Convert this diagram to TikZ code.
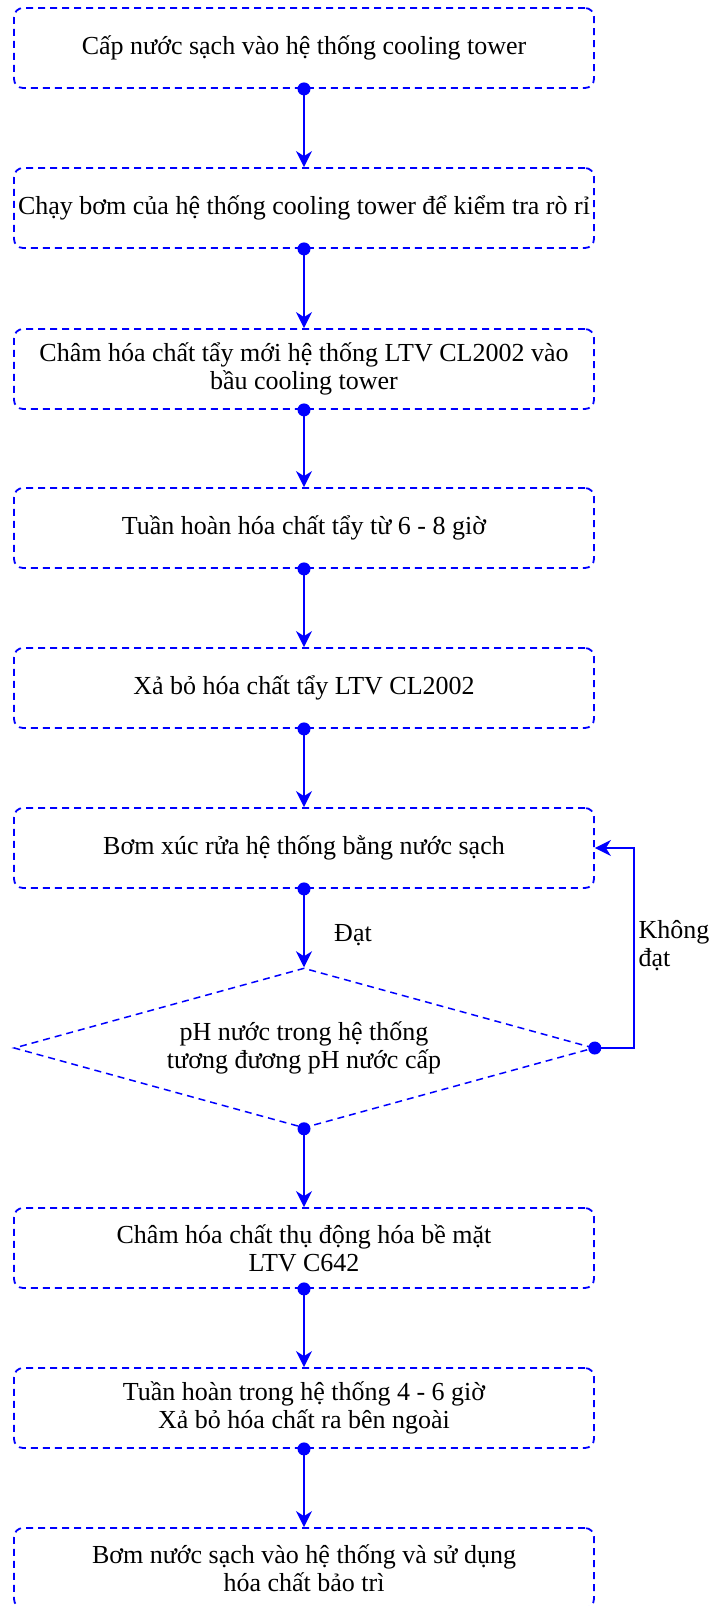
\documentclass[tikz,border=0pt]{standalone}
\usepackage{fontspec}
\setmainfont{Liberation Serif}
\usetikzlibrary{shapes.geometric,arrows.meta}

\begin{document}
\begin{tikzpicture}[x=1pt,y=-1pt,
    txt/.style={font={\fontsize{26}{28}\selectfont}},
    box/.style={txt, draw=blue, dash pattern=on 7pt off 5pt, line width=1.8pt, rounded corners=9pt,
      minimum width=580pt, minimum height=80pt, inner sep=0pt, align=center},
    test/.style={txt, draw=blue, dash pattern=on 7pt off 5pt, line width=1.5pt, diamond, shape aspect=3.6,
      minimum width=580pt, minimum height=160pt, inner sep=0pt, align=center},
    flow/.style={draw=blue, line width=2pt, -{Stealth[length=16pt,width=16pt,inset=5pt]}}]
    \useasboundingbox (0,0) rectangle (711,1606);

    % steps
    \node[box] (fill) at (304,48) {Cấp nước sạch vào hệ thống cooling tower};
    \node[box] (leak) at (304,208) {Chạy bơm của hệ thống cooling tower để kiểm tra rò rỉ};
    \node[box] (dose) at (304,369) {Châm hóa chất tẩy mới hệ thống LTV CL2002 vào\\bầu cooling tower};
    \node[box] (circ) at (304,528) {Tuần hoàn hóa chất tẩy từ 6 - 8 giờ};
    \node[box] (drain) at (304,688) {Xả bỏ hóa chất tẩy LTV CL2002};
    \node[box] (rinse) at (304,848) {Bơm xúc rửa hệ thống bằng nước sạch};
    \node[test] (ph) at (304,1048) {pH nước trong hệ thống\\tương đương pH nước cấp};
    \node[box] (passiv) at (304,1248) {Châm hóa chất thụ động hóa bề mặt\\LTV C642};
    \node[box] (recirc) at (304,1408) {Tuần hoàn trong hệ thống 4 - 6 giờ\\Xả bỏ hóa chất ra bên ngoài};
    \node[box] (keep) at (304,1568) {Bơm nước sạch vào hệ thống và sử dụng\\hóa chất bảo trì};

    % arrows
    \draw[flow] (fill) -- (leak);
    \draw[flow] (leak) -- (dose);
    \draw[flow] (dose) -- (circ);
    \draw[flow] (circ) -- (drain);
    \draw[flow] (drain) -- (rinse);
    \draw[flow] (rinse) -- (ph);
    \draw[flow] (ph) -- (passiv);
    \draw[flow] (passiv) -- (recirc);
    \draw[flow] (recirc) -- (keep);
    \draw[flow] (ph.east) -- ++(39,0) |- (rinse.east); % loop back

    % start dots
    \foreach \n in {fill,leak,dose,circ,drain,rinse,ph,passiv,recirc}
      \fill[blue] (\n.south) circle (6.5pt);
    \fill[blue] (ph.east) circle (6.5pt);

    \node[txt] (ok) at (353,935) {Đạt};
    \node[txt, anchor=west, align=left] (notok) at (635,946) {Không\\đạt};
\end{tikzpicture}
\end{document}
